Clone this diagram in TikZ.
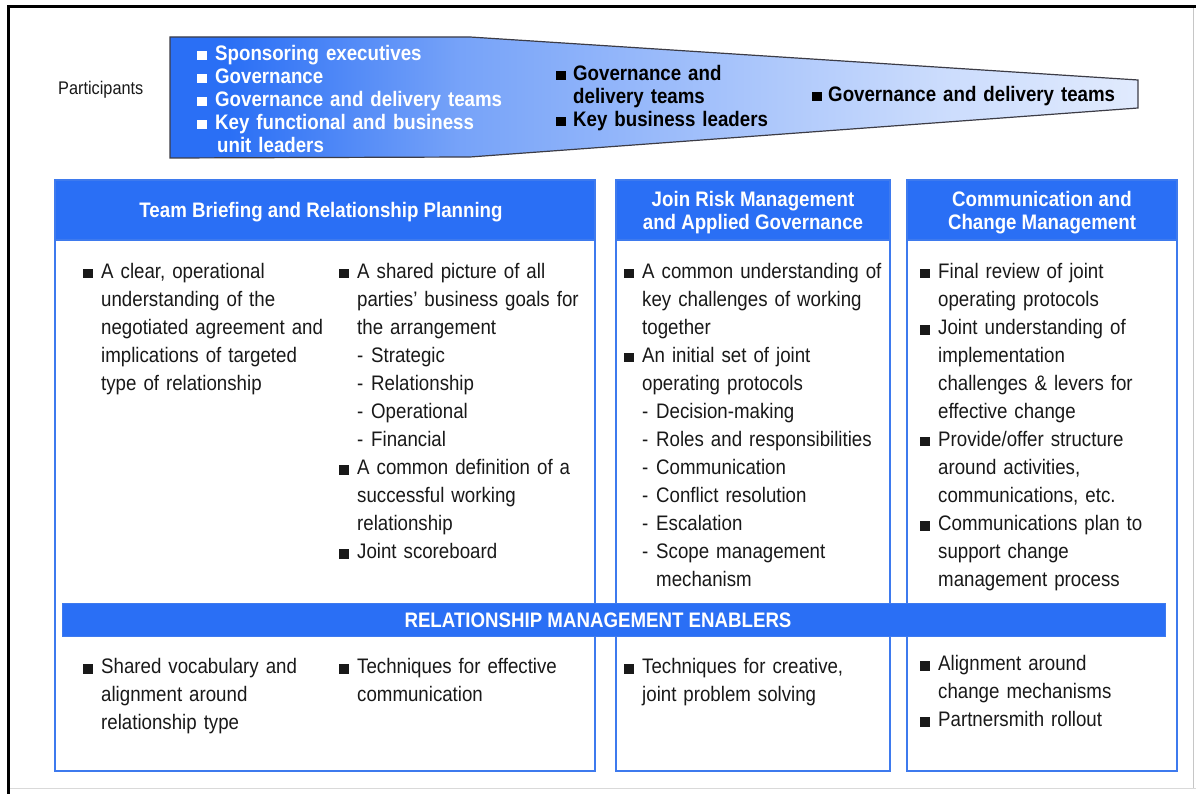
\documentclass[tikz,border=0pt]{standalone}
\usepackage{fontspec}
\setmainfont{Liberation Sans}[FakeStretch=0.89]
\definecolor{bblue}{RGB}{42,111,245}
\definecolor{bord}{RGB}{62,122,238}
\definecolor{txt}{RGB}{25,25,25}
\definecolor{bannerline}{RGB}{60,60,70}
\pgfdeclarehorizontalshading{bannershade}{100bp}{color(0bp)=(bblue); color(28bp)=(bblue); color(40bp)=(bblue!64!white); color(65bp)=(bblue!24!white); color(90bp)=(white); color(100bp)=(white)}
\newcommand\sqb[1][txt]{\makebox[18pt][l]{\textcolor{#1}{\rule{9.5pt}{9.5pt}}}}
\newcommand\ind{\hspace*{18pt}}
\newcommand\subi{\hspace*{18pt}\makebox[14pt][l]{-}}
\tikzset{
  colbox/.style={draw=bord, line width=2pt, fill=white, inner sep=0pt},
  hdrbox/.style={draw=bord, line width=2pt, fill=bblue, inner sep=0pt},
  hdrtext/.style={inner sep=0pt, text=white, align=center,
    font=\fontsize{21}{23}\selectfont\bfseries},
  bodytext/.style={anchor=base west, inner sep=0pt, text width=300pt, align=left, text=txt,
    font=\fontsize{21}{28}\selectfont},
  bantext/.style={anchor=base west, inner sep=0pt, text width=360pt, align=left,
    font=\fontsize{21}{23}\selectfont\bfseries}
}
\begin{document}
\begin{tikzpicture}[x=1pt,y=-1pt]
\useasboundingbox (0,0) rectangle (1196,794);
\fill[white] (0,0) rectangle (1196,794);
% frame
\draw[gray!30, line width=1pt] (9,788) -- (1196,788);
\draw[gray!45, line width=1pt] (1193,8) -- (1193,788);
\draw[black, line width=3pt] (7,7) -- (1196,7);
\draw[black, line width=3pt] (8,6) -- (8,794);
% participants banner
\node[anchor=base west, inner sep=0pt, text=txt, font=\fontsize{18.3}{20}\selectfont] (part) at (58,95) {Participants};
\shadedraw[shading=bannershade, draw=bannerline, line width=1.2pt]
  (170,37) -- (470,37) -- (1138,80) -- (1138,108) -- (470,157) -- (170,158) -- cycle;
\node[bantext, text=white] (g1) at (197,60.5) {\sqb[white]Sponsoring executives\\
\sqb[white]Governance\\
\sqb[white]Governance and delivery teams\\
\sqb[white]Key functional and business\\
\hspace*{20pt}unit leaders};
\node[bantext, text=black] (g2) at (556,80.5) {\makebox[17pt][l]{\rule{9.5pt}{9.5pt}}Governance and\\
\hspace*{17pt}delivery teams\\
\makebox[17pt][l]{\rule{9.5pt}{9.5pt}}Key business leaders};
\node[bantext, text=black] (g3) at (812,101.5) {\makebox[16pt][l]{\rule{9.5pt}{9.5pt}}Governance and delivery teams};
% columns
\node[colbox, minimum width=540pt, minimum height=591pt] (col1) at (325,475.5) {};
\node[colbox, minimum width=274pt, minimum height=591pt] (col2) at (753,475.5) {};
\node[colbox, minimum width=270pt, minimum height=591pt] (col3) at (1042,475.5) {};
\node[hdrbox, minimum width=540pt, minimum height=60pt] (h1) at (325,210) {};
\node[hdrbox, minimum width=274pt, minimum height=60pt] (h2) at (753,210) {};
\node[hdrbox, minimum width=270pt, minimum height=60pt] (h3) at (1042,210) {};
\node[hdrtext, anchor=base] (h1t) at (321,217.5) {Team Briefing and Relationship Planning};
\node[hdrtext, anchor=base] (h2t) at (753,229.5) {Join Risk Management\\and Applied Governance};
\node[hdrtext, anchor=base] (h3t) at (1042,229.5) {Communication and\\Change Management};
% upper texts
\node[bodytext] (t1a) at (83,278.5) {\sqb A clear, operational\\
\ind understanding of the\\
\ind negotiated agreement and\\
\ind implications of targeted\\
\ind type of relationship};
\node[bodytext] (t1b) at (339,278.5) {\sqb A shared picture of all\\
\ind parties’ business goals for\\
\ind the arrangement\\
\subi Strategic\\
\subi Relationship\\
\subi Operational\\
\subi Financial\\
\sqb A common definition of a\\
\ind successful working\\
\ind relationship\\
\sqb Joint scoreboard};
\node[bodytext] (t2) at (624,278.5) {\sqb A common understanding of\\
\ind key challenges of working\\
\ind together\\
\sqb An initial set of joint\\
\ind operating protocols\\
\subi Decision-making\\
\subi Roles and responsibilities\\
\subi Communication\\
\subi Conflict resolution\\
\subi Escalation\\
\subi Scope management\\
\ind\hspace*{14pt}mechanism};
\node[bodytext] (t3) at (920,278.5) {\sqb Final review of joint\\
\ind operating protocols\\
\sqb Joint understanding of\\
\ind implementation\\
\ind challenges \& levers for\\
\ind effective change\\
\sqb Provide/offer structure\\
\ind around activities,\\
\ind communications, etc.\\
\sqb Communications plan to\\
\ind support change\\
\ind management process};
% enablers bar
\node[fill=bblue, draw=bord, line width=0.6pt, inner sep=0pt, minimum width=1103pt, minimum height=33pt] (bar) at (613.5,619.5) {};
\node[anchor=base, inner sep=0pt, text=white, font=\fontsize{21}{23}\selectfont\bfseries] (bart) at (598,627) {RELATIONSHIP MANAGEMENT ENABLERS};
% lower texts
\node[bodytext] (b1a) at (83,673.5) {\sqb Shared vocabulary and\\
\ind alignment around\\
\ind relationship type};
\node[bodytext] (b1b) at (339,673.5) {\sqb Techniques for effective\\
\ind communication};
\node[bodytext] (b2) at (624,673.5) {\sqb Techniques for creative,\\
\ind joint problem solving};
\node[bodytext] (b3) at (920,670.5) {\sqb Alignment around\\
\ind change mechanisms\\
\sqb Partnersmith rollout};
\end{tikzpicture}
\end{document}
